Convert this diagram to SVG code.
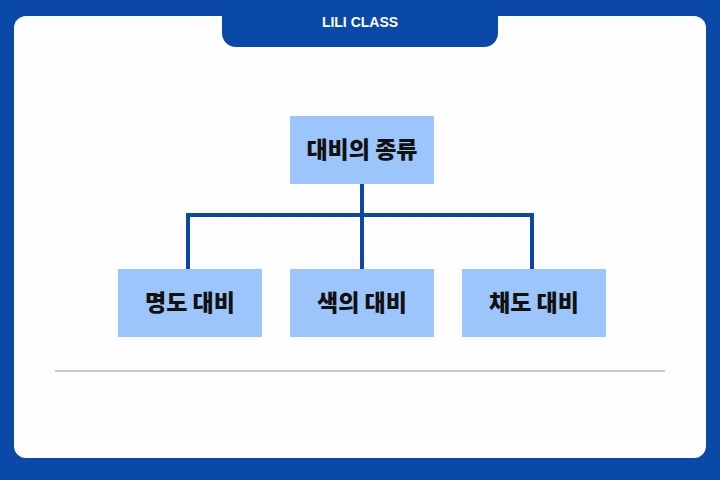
<svg xmlns="http://www.w3.org/2000/svg" width="720" height="480" viewBox="0 0 720 480">
<style>
.node rect{fill:#9cc5fb}
.node text{font-family:"Noto Sans CJK KR","Noto Sans",sans-serif;font-weight:900;font-size:23px;fill:#111;text-anchor:middle}
.conn{stroke:#0b47a5;stroke-width:4;fill:none}
</style>
<rect x="0" y="0" width="720" height="480" fill="#0b49a8"/>
<rect x="14" y="16" width="692" height="442" rx="12" fill="#fdfdfd"/>
<path d="M222 0 H498 V33 a14 14 0 0 1 -14 14 H236 a14 14 0 0 1 -14 -14 Z" fill="#0b49a8"/>
<text x="360" y="27" font-family="Liberation Sans, sans-serif" font-weight="bold" font-size="14" fill="#fff" text-anchor="middle">LILI CLASS</text>
<g id="connectors" class="conn">
<path d="M362 184 V215 M188 269 V215 H532 V269 M362 215 V269"/>
</g>
<g id="n-root" class="node"><rect x="290" y="116" width="144" height="68"/><text x="362" y="158">대비의 종류</text></g>
<g id="n-1" class="node"><rect x="118" y="269" width="144" height="68"/><text x="190" y="311">명도 대비</text></g>
<g id="n-2" class="node"><rect x="290" y="269" width="144" height="68"/><text x="362" y="311">색의 대비</text></g>
<g id="n-3" class="node"><rect x="462" y="269" width="144" height="68"/><text x="534" y="311">채도 대비</text></g>
<line x1="55" y1="371" x2="665" y2="371" stroke="#8a9098" stroke-width="1"/>
</svg>
